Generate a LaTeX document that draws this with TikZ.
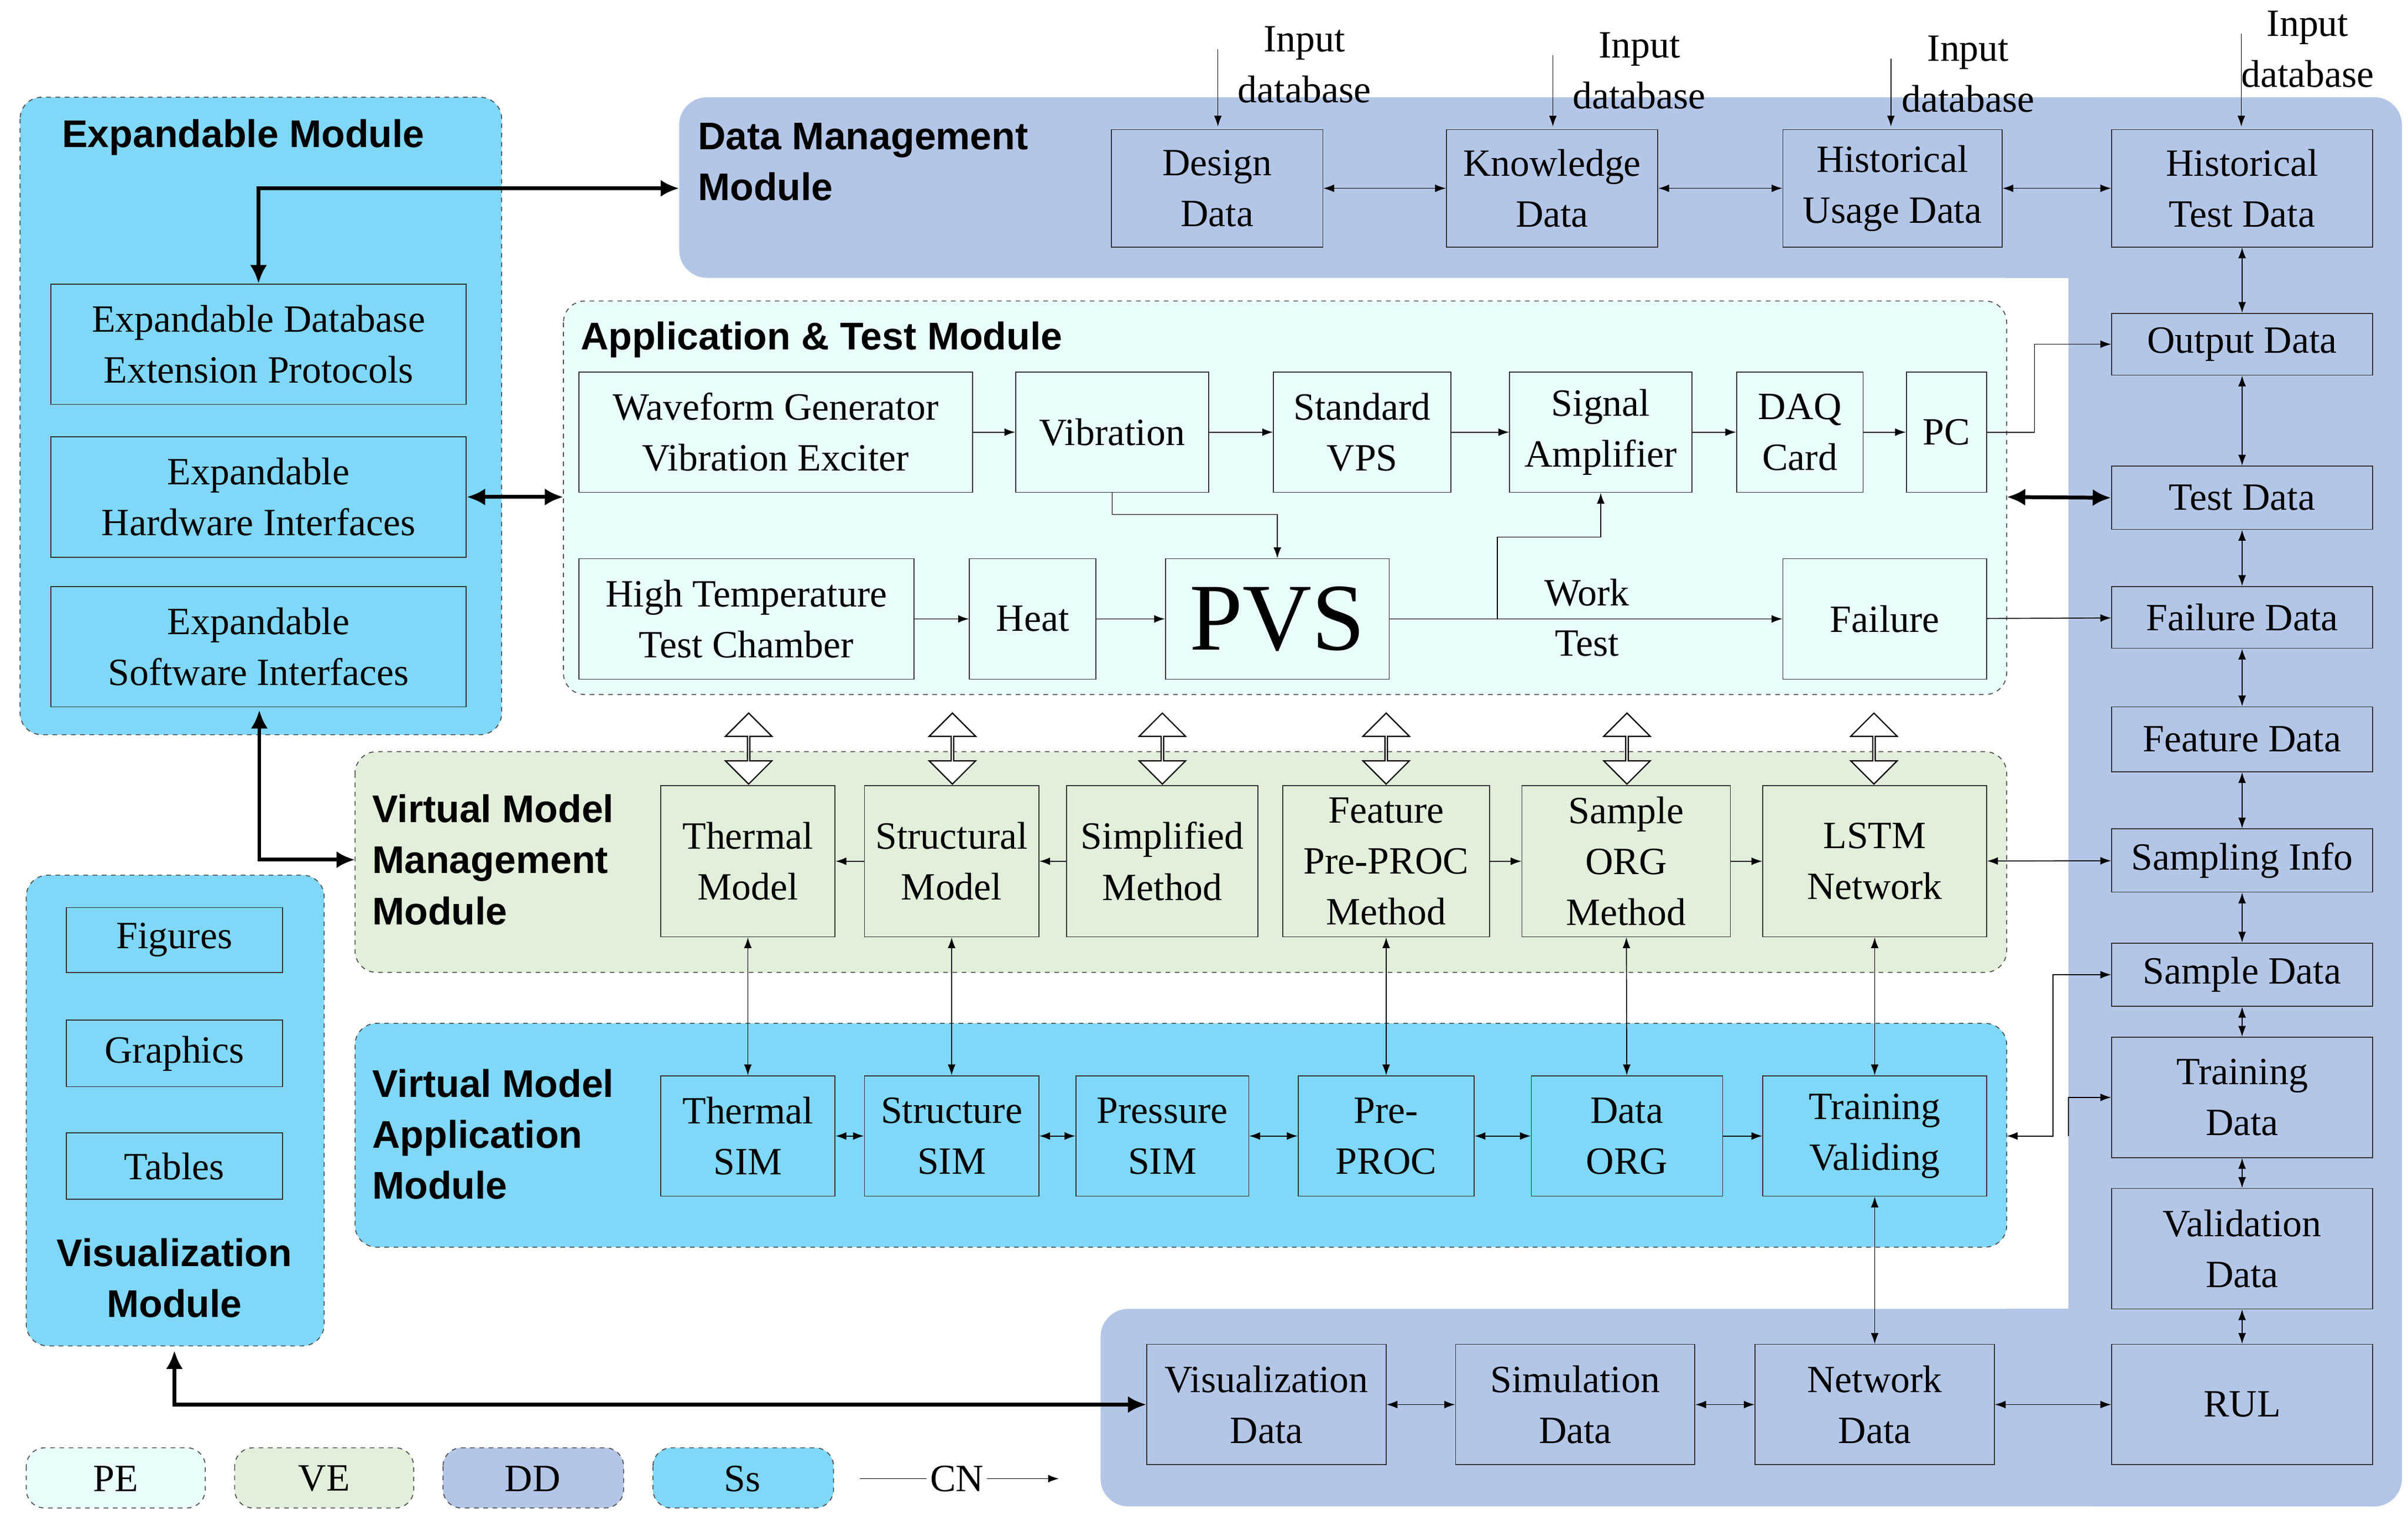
\documentclass[tikz,border=0pt]{standalone}
\usepackage{fontspec}
\setmainfont{Liberation Serif}
\newfontfamily\sansb{Liberation Sans}
\usetikzlibrary{arrows.meta,shapes.arrows}
\definecolor{dd}{HTML}{B4C6E7}
\definecolor{ss}{HTML}{80D7F7}
\definecolor{ve}{HTML}{E2EFDA}
\definecolor{pe}{HTML}{EAFDFD}
\newcommand\bx[7][]{\pgfmathsetmacro\bxcx{(#3+#5)/2}\pgfmathsetmacro\bxcy{(#4+#6)/2}\pgfmathsetmacro\bxw{#5-#3}\pgfmathsetmacro\bxh{#6-#4}\node[box,minimum width=\bxw pt,minimum height=\bxh pt,#1] (#2) at (\bxcx,\bxcy) {#7};}
\tikzset{
 box/.style={draw=black!80,line width=0.6pt,inner sep=0pt,align=center,font=\fontsize{25}{33}\selectfont},
 arr/.style={line width=0.6pt,-{Latex[length=7pt,width=5pt]}},
 barr/.style={line width=0.6pt,{Latex[length=7pt,width=5pt]}-{Latex[length=7pt,width=5pt]}},
 thick arr/.style={line width=2.5pt,{Latex[length=12pt,width=11pt]}-{Latex[length=12pt,width=11pt]}},
 region/.style={draw=black!70,dashed,line width=0.6pt,rounded corners=14pt},
 title/.style={font=\sansb\bfseries\fontsize{25}{33}\selectfont,align=left,inner sep=0pt},
 txt/.style={font=\fontsize{25}{33}\selectfont,align=center,inner sep=0pt},
 blk/.style={double arrow,draw,fill=white,line width=0.8pt,rotate=90,minimum height=46pt,minimum width=30pt,double arrow head extend=7pt,inner sep=0pt}
}
\begin{document}
\begin{tikzpicture}[x=1pt,y=-1pt]
\fill[white] (0,0) rectangle (1560,982);
\useasboundingbox (0,0) rectangle (1560,982);
% DD region
\fill[dd,rounded corners=18pt] (440,63) rectangle (1556,180);
\fill[dd,rounded corners=18pt] (1340,63) rectangle (1556,976);
\fill[dd,rounded corners=18pt] (713,848) rectangle (1556,976);
\fill[dd] (1300,140) rectangle (1380,180);
\fill[dd] (1300,848) rectangle (1380,880);
\node[title,anchor=west] at (452,105) {Data Management\\ Module};
% regions
\path[region,fill=ss] (13,63) rectangle (325,476);
\path[region,fill=ss] (17,567) rectangle (210,872);
\path[region,fill=pe] (365,195) rectangle (1300,450);
\path[region,fill=ve] (230,487) rectangle (1300,630);
\path[region,fill=ss] (230,663) rectangle (1300,808);
\node[title,anchor=west] at (40,89) {Expandable Module};
\node[title,align=center] at (113,828) {Visualization\\ Module};
\node[title,anchor=west] at (376,220) {Application \& Test Module};
\node[title,anchor=west] at (241,557) {Virtual Model\\ Management\\ Module};
\node[title,anchor=west] at (241,735) {Virtual Model\\ Application\\ Module};
% top boxes
\bx{dsn}{720}{84}{857}{160}{Design\\ Data}
\bx{kn}{937}{84}{1074}{160}{Knowledge\\ Data}
\bx{hu}{1155}{84}{1297}{160}{Historical\\ Usage Data}
\bx{ht}{1368}{84}{1537}{160}{Historical\\ Test Data}
\draw[barr] (dsn) -- (kn); \draw[barr] (kn) -- (hu); \draw[barr] (hu) -- (ht);
\foreach \x/\lx/\ly/\n in {789/845/42/a,1006/1062/46/b,1225/1275/48/c,1452/1495/32/d}{
 \coordinate (in\n) at (\x,\ly-10);
 \draw[arr] (in\n) -- (\x,82);
 \node[txt] at (\lx,\ly) {Input\\ database};}
% right column
\bx{out}{1368}{203}{1537}{243}{Output Data}
\bx{test}{1368}{302}{1537}{343}{Test Data}
\bx{fail}{1368}{380}{1537}{420}{Failure Data}
\bx{feat}{1368}{458}{1537}{500}{Feature Data}
\bx{samp}{1368}{537}{1537}{578}{Sampling Info}
\bx{sdat}{1368}{611}{1537}{652}{Sample Data}
\bx{tdat}{1368}{672}{1537}{750}{Training\\ Data}
\bx{vdat}{1368}{770}{1537}{848}{Validation\\ Data}
\bx{rul}{1368}{871}{1537}{949}{RUL}
\draw[barr] (ht) -- (out); \draw[barr] (out) -- (test); \draw[barr] (test) -- (fail);
\draw[barr] (fail) -- (feat); \draw[barr] (feat) -- (samp); \draw[barr] (samp) -- (sdat);
\draw[barr] (sdat) -- (tdat); \draw[barr] (tdat) -- (vdat); \draw[barr] (vdat) -- (rul);
% bottom
\bx{vis}{743}{871}{898}{949}{Visualization\\ Data}
\bx{sim}{943}{871}{1098}{949}{Simulation\\ Data}
\bx{net}{1137}{871}{1292}{949}{Network\\ Data}
\draw[barr] (vis) -- (sim); \draw[barr] (sim) -- (net); \draw[barr] (net) -- (rul);
% expandable
\bx{e1}{33}{184}{302}{262}{Expandable Database\\ Extension Protocols}
\bx{e2}{33}{283}{302}{361}{Expandable\\ Hardware Interfaces}
\bx{e3}{33}{380}{302}{458}{Expandable\\ Software Interfaces}
\coordinate (dmm) at (440,122);
\draw[thick arr] (e1.north) |- (dmm);
% visualization
\bx{fig}{43}{588}{183}{630}{Figures}
\bx{gra}{43}{661}{183}{704}{Graphics}
\bx{tab}{43}{734}{183}{777}{Tables}
\coordinate (vmtop) at (113,875);
\draw[thick arr] (vmtop) |- (vis.west);
\coordinate (vmm) at (230,557);
\coordinate (exb) at (168,460);
\draw[thick arr] (exb) |- (vmm);
\coordinate (apl) at (365,322);
\draw[thick arr] (e2.east) -- (apl);
\coordinate (apr) at (1300,322);
\draw[thick arr] (apr) -- (test.west);
% application
\bx{wav}{375}{241}{630}{319}{Waveform Generator\\ Vibration Exciter}
\bx{vib}{658}{241}{783}{319}{Vibration}
\bx{vps}{825}{241}{940}{319}{Standard\\ VPS}
\bx{amp}{978}{241}{1096}{319}{Signal\\ Amplifier}
\bx{daq}{1125}{241}{1207}{319}{DAQ\\ Card}
\bx{pc}{1235}{241}{1287}{319}{PC}
\draw[arr] (wav) -- (vib); \draw[arr] (vib) -- (vps); \draw[arr] (vps) -- (amp);
\draw[arr] (amp) -- (daq); \draw[arr] (daq) -- (pc);
\draw[arr] (pc.east) -- (1318,280) |- (out.west);
\bx{htc}{375}{362}{592}{440}{High Temperature\\ Test Chamber}
\bx{heat}{628}{362}{710}{440}{Heat}
\bx[font=\fontsize{62}{62}\selectfont]{pvs}{755}{362}{900}{440}{PVS}
\bx{flr}{1155}{362}{1287}{440}{Failure}
\draw[arr] (htc) -- (heat); \draw[arr] (heat) -- (pvs); \draw[arr] (pvs) -- (flr);
\draw[arr] (vib.south) -- ++(0,14) -| (pvs.north);
\draw[arr] (970,401) -- (970,348) -| (amp.south);
\node[txt] at (1028,384) {Work};
\node[txt] at (1028,417) {Test};
\draw[arr] (flr) -- (fail);
% VM management
\bx{thm}{428}{509}{541}{607}{Thermal\\ Model}
\bx{stm}{560}{509}{673}{607}{Structural\\ Model}
\bx{sim1}{691}{509}{815}{607}{Simplified\\ Method}
\bx{fpm}{831}{509}{965}{607}{Feature\\ Pre-PROC\\ Method}
\bx{som}{986}{509}{1121}{607}{Sample\\ ORG\\ Method}
\bx{lstm}{1142}{509}{1287}{607}{LSTM\\ Network}
\draw[arr] (stm) -- (thm); \draw[arr] (sim1) -- (stm);
\draw[arr] (fpm) -- (som); \draw[arr] (som) -- (lstm);
\draw[barr] (lstm) -- (samp);
% VM application
\bx{ths}{428}{697}{541}{775}{Thermal\\ SIM}
\bx{sts}{560}{697}{673}{775}{Structure\\ SIM}
\bx{prs}{697}{697}{809}{775}{Pressure\\ SIM}
\bx{pre}{841}{697}{955}{775}{Pre-\\ PROC}
\bx{dorg}{992}{697}{1116}{775}{Data\\ ORG}
\bx{trv}{1142}{697}{1287}{775}{Training\\ Validing}
\draw[barr] (ths) -- (sts); \draw[barr] (sts) -- (prs); \draw[barr] (prs) -- (pre);
\draw[barr] (pre) -- (dorg); \draw[arr] (dorg) -- (trv);
\draw[barr] (thm) -- (ths); \draw[barr] (stm) -- (sts); \draw[barr] (fpm) -- (pre);
\draw[barr] (som) -- (dorg); \draw[barr] (lstm) -- (trv); \draw[barr] (trv) -- (net);
\coordinate (var) at (1300,736);
\draw[barr] (var) -- (1330,736) |- (sdat.west);
\draw[arr] (1340,736) |- (tdat.west);
% block arrows
\foreach \x in {485,617,753,898,1054,1214} \node[blk] at (\x,485) {};
% legend
\path[region,rounded corners=12pt,fill=pe] (17,938) rectangle (133,977);
\path[region,rounded corners=12pt,fill=ve] (152,938) rectangle (268,977);
\path[region,rounded corners=12pt,fill=dd] (287,938) rectangle (404,977);
\path[region,rounded corners=12pt,fill=ss] (423,938) rectangle (540,977);
\node[txt] (lpe) at (75,958) {PE};
\node[txt] (lve) at (210,958) {VE};
\node[txt] (ldd) at (345,958) {DD};
\node[txt] (lss) at (481,958) {Ss};
\node[txt,fill=white,inner sep=2pt] (cn) at (620,958) {CN};
\coordinate (cna) at (557,958); \coordinate (cnb) at (686,958);
\draw[line width=0.6pt] (cna) -- (cn.west);
\draw[arr] (cn.east) -- (cnb);
\end{tikzpicture}
\end{document}
